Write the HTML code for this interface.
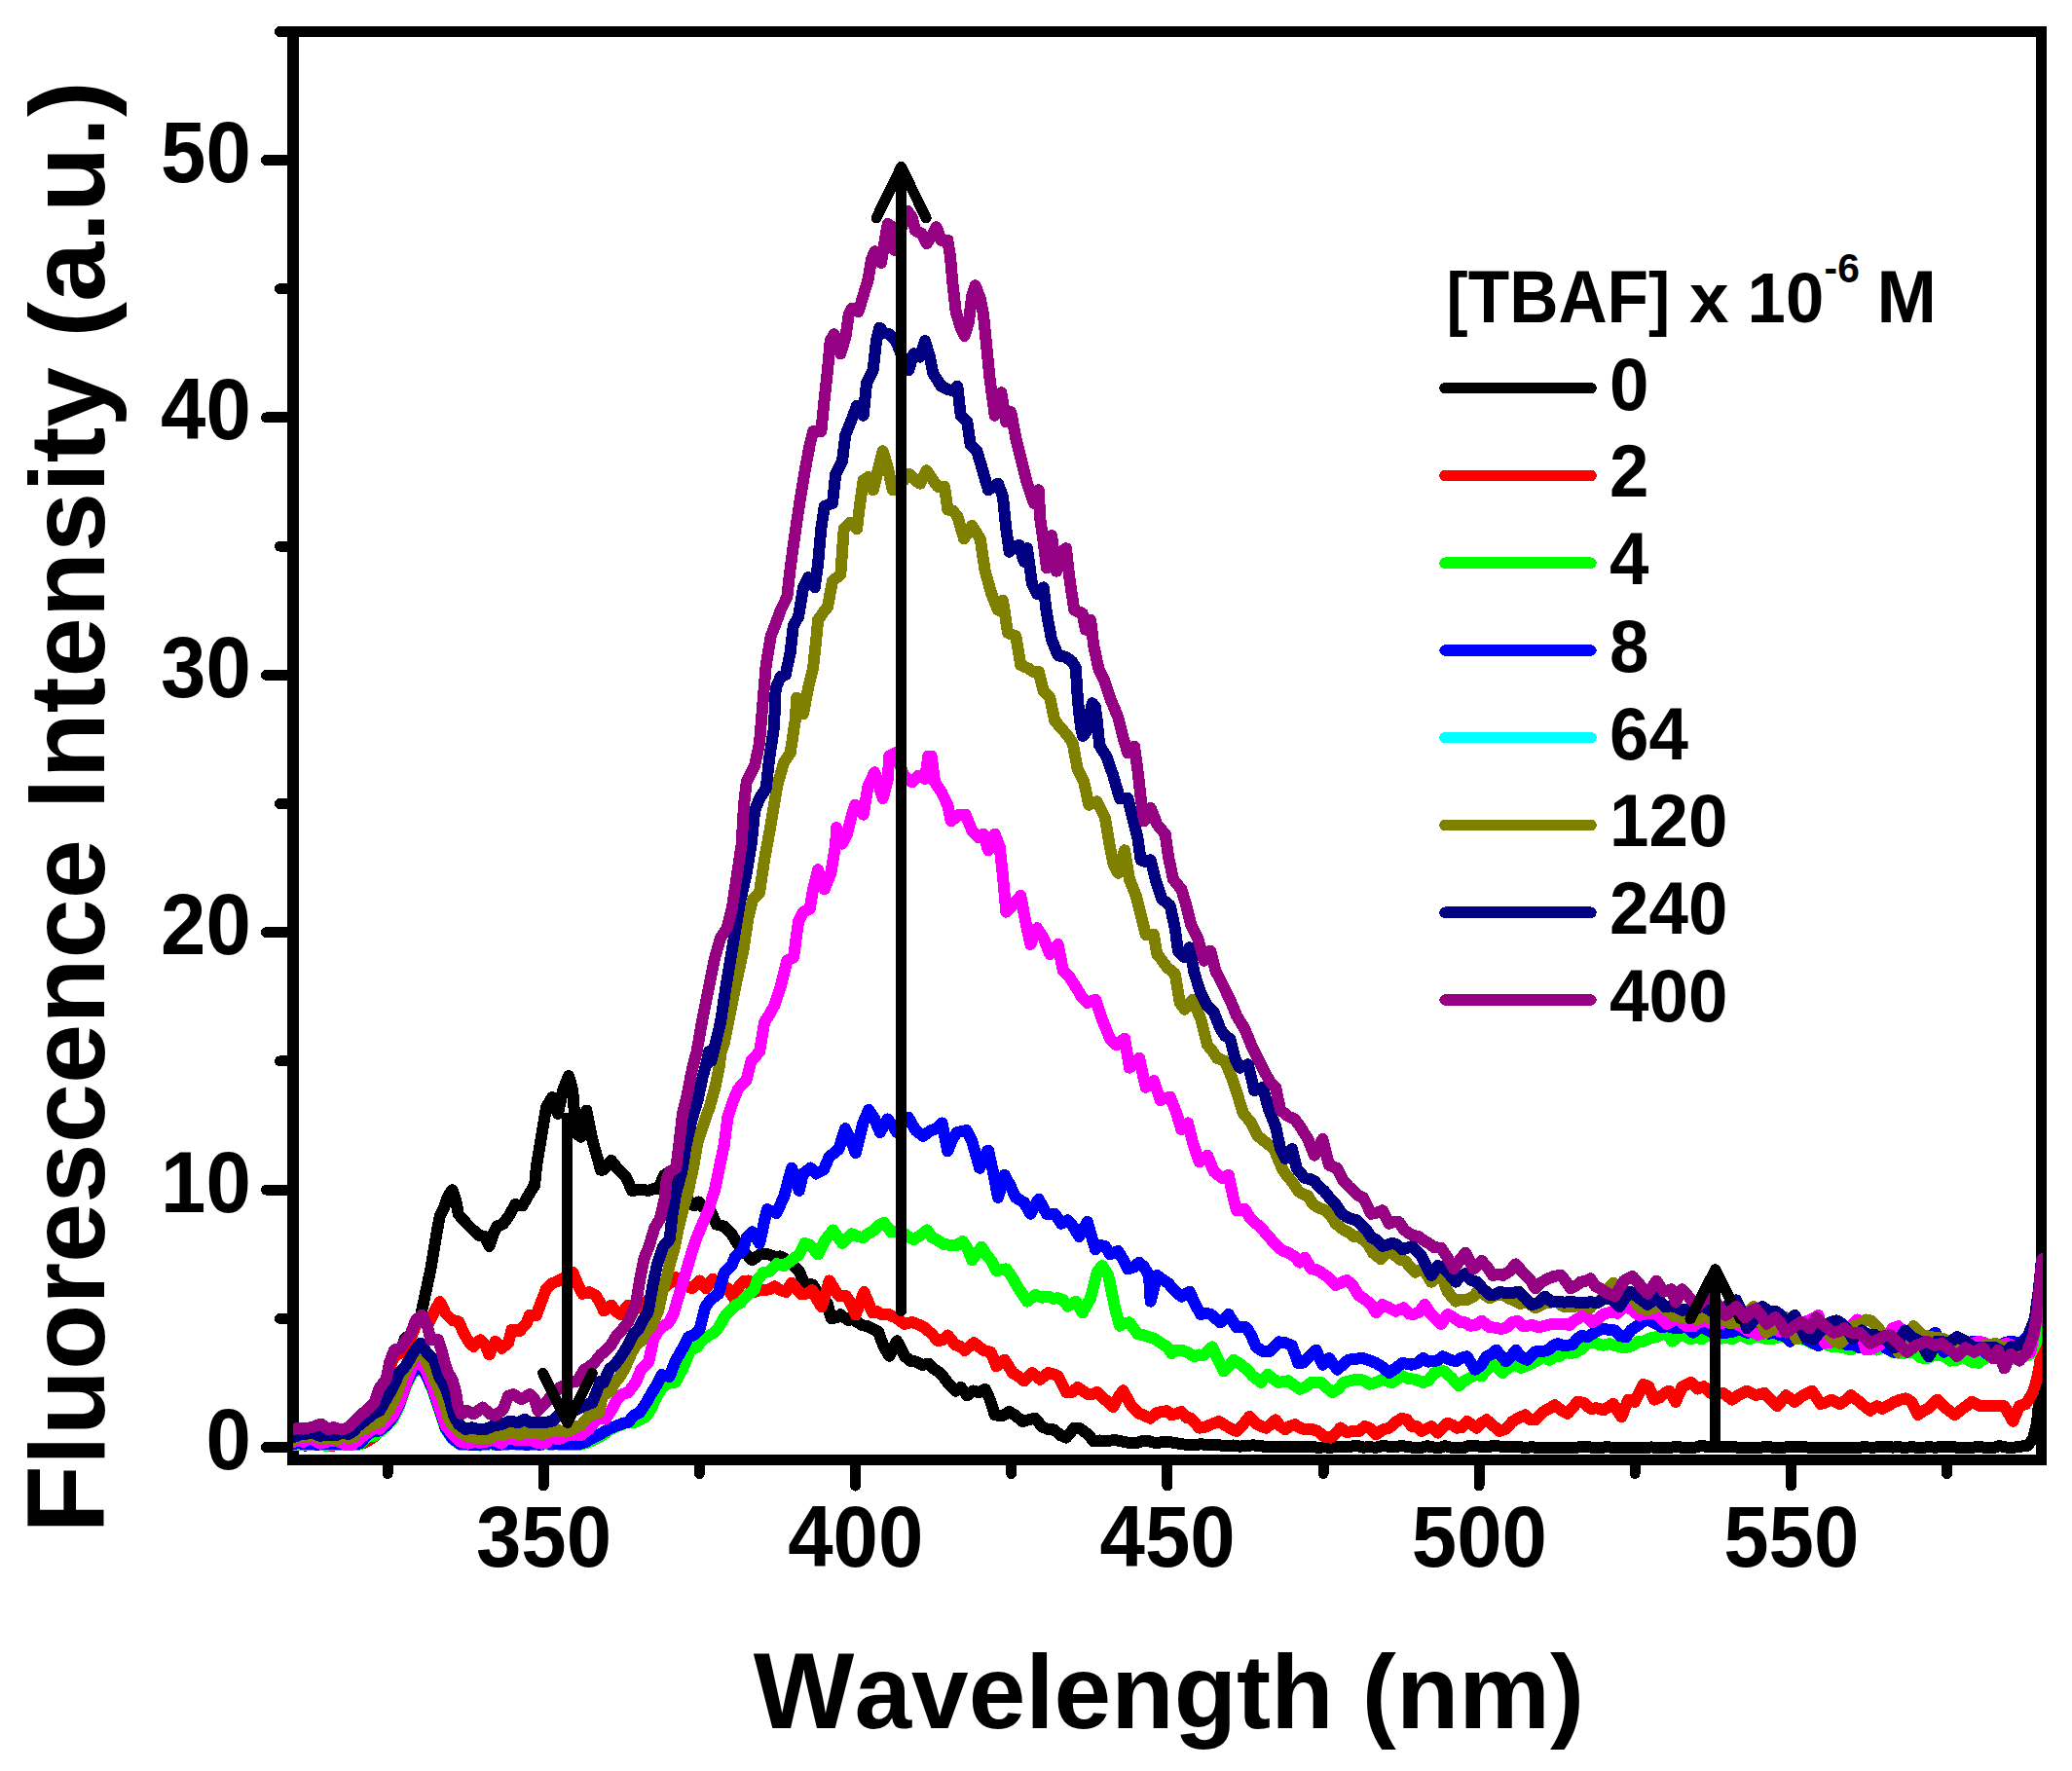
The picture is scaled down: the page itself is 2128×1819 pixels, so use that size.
<!DOCTYPE html>
<html lang="en"><head><meta charset="utf-8"><title>Fluorescence spectra</title>
<style>
html,body{margin:0;padding:0;background:#fff;}
body{width:2128px;height:1819px;overflow:hidden;}
svg{display:block;}
text{font-family:"Liberation Sans",Arial,Helvetica,sans-serif;font-weight:bold;fill:#000;}
.ax{stroke:#000;stroke-width:11;fill:none;stroke-linecap:round;}
.cv{fill:none;stroke-width:12;stroke-linejoin:round;stroke-linecap:round;}
.ar{fill:none;stroke:#000;stroke-width:11;stroke-linejoin:round;stroke-linecap:round;}
.lg{fill:none;stroke-width:11.5;stroke-linecap:round;}
</style></head><body>
<svg width="2128" height="1819" viewBox="0 0 2128 1819">
<rect x="0" y="0" width="2128" height="1819" fill="#ffffff"/>
<defs><clipPath id="plot"><rect x="301.0" y="32.5" width="1796.5" height="1467.0"/></clipPath></defs>
<g class="ax" shape-rendering="crispEdges">
<path d="M301.0 32.5 H2096.5 V1499.5 H301.0 Z" stroke-linejoin="miter" stroke-linecap="butt"/>
<line x1="301.0" y1="27.0" x2="301.0" y2="1505.0" style="stroke-width:12;stroke-linecap:butt"/>
<line x1="287.5" y1="32.5" x2="301.0" y2="32.5"/>
<line x1="273.5" y1="1486.5" x2="301.0" y2="1486.5"/>
<line x1="273.5" y1="1222.1" x2="301.0" y2="1222.1"/>
<line x1="273.5" y1="957.7" x2="301.0" y2="957.7"/>
<line x1="273.5" y1="693.3" x2="301.0" y2="693.3"/>
<line x1="273.5" y1="428.9" x2="301.0" y2="428.9"/>
<line x1="273.5" y1="164.5" x2="301.0" y2="164.5"/>
<line x1="287.5" y1="1354.3" x2="301.0" y2="1354.3"/>
<line x1="287.5" y1="1089.9" x2="301.0" y2="1089.9"/>
<line x1="287.5" y1="825.5" x2="301.0" y2="825.5"/>
<line x1="287.5" y1="561.1" x2="301.0" y2="561.1"/>
<line x1="287.5" y1="296.7" x2="301.0" y2="296.7"/>
<line x1="558.2" y1="1499.5" x2="558.2" y2="1526"/>
<line x1="878.5" y1="1499.5" x2="878.5" y2="1526"/>
<line x1="1198.8" y1="1499.5" x2="1198.8" y2="1526"/>
<line x1="1519.1" y1="1499.5" x2="1519.1" y2="1526"/>
<line x1="1839.4" y1="1499.5" x2="1839.4" y2="1526"/>
<line x1="398.1" y1="1499.5" x2="398.1" y2="1513.5"/>
<line x1="718.4" y1="1499.5" x2="718.4" y2="1513.5"/>
<line x1="1038.7" y1="1499.5" x2="1038.7" y2="1513.5"/>
<line x1="1359.0" y1="1499.5" x2="1359.0" y2="1513.5"/>
<line x1="1679.2" y1="1499.5" x2="1679.2" y2="1513.5"/>
<line x1="1999.5" y1="1499.5" x2="1999.5" y2="1513.5"/>
</g>
<text transform="translate(257.80 1509.00) scale(0.9370 1)" font-size="89.0" text-anchor="end">0</text>
<text transform="translate(257.80 1244.60) scale(0.9370 1)" font-size="89.0" text-anchor="end">10</text>
<text transform="translate(257.80 980.20) scale(0.9370 1)" font-size="89.0" text-anchor="end">20</text>
<text transform="translate(257.80 715.80) scale(0.9370 1)" font-size="89.0" text-anchor="end">30</text>
<text transform="translate(257.80 451.40) scale(0.9370 1)" font-size="89.0" text-anchor="end">40</text>
<text transform="translate(257.80 187.00) scale(0.9370 1)" font-size="89.0" text-anchor="end">50</text>
<text transform="translate(558.50 1608.70) scale(0.9370 1)" font-size="89.0" text-anchor="middle">350</text>
<text transform="translate(878.80 1608.70) scale(0.9370 1)" font-size="89.0" text-anchor="middle">400</text>
<text transform="translate(1199.10 1608.70) scale(0.9370 1)" font-size="89.0" text-anchor="middle">450</text>
<text transform="translate(1519.40 1608.70) scale(0.9370 1)" font-size="89.0" text-anchor="middle">500</text>
<text transform="translate(1839.70 1608.70) scale(0.9370 1)" font-size="89.0" text-anchor="middle">550</text>
<text transform="translate(1200.50 1775.40) scale(0.9853 1)" font-size="107.0" text-anchor="middle" id="xtitle"><tspan font-size="111.4">W</tspan>avelength (nm)</text>
<text id="ytitle" transform="translate(106.8 829.2) rotate(-90) scale(1.0108 1)" font-size="109" text-anchor="middle"><tspan font-size="113.4">F</tspan>luorescence <tspan font-size="113.4">I</tspan>ntensity (a.u.)</text>
<g clip-path="url(#plot)" shape-rendering="crispEdges">
<polyline class="cv" stroke="#000000" points="300.9,1483.5 307.4,1483.4 313.9,1484.7 320.4,1483.5 326.8,1482.9 333.1,1482.2 339.4,1483.9 345.8,1483.7 352.6,1484.1 359.4,1483.5 365.3,1483.4 371.2,1482.7 378.0,1479.1 384.8,1473.6 389.9,1427.9 396.6,1419.4 400.0,1402.4 405.1,1388.9 411.9,1386.0 416.1,1374.5 422.1,1370.3 427.1,1356.7 431.1,1356.4 434.2,1341.5 442.2,1304.2 448.4,1267.0 451.6,1249.6 456.5,1239.6 459.6,1229.7 464.6,1222.2 468.1,1232.2 470.8,1247.1 478.9,1256.4 485.7,1263.2 491.9,1268.8 498.1,1270.1 502.5,1280.0 506.8,1267.0 510.6,1259.5 516.8,1257.0 523.0,1248.3 529.2,1237.1 536.6,1238.4 542.9,1227.2 549.1,1217.3 550.9,1198.6 554.0,1180.0 561.1,1137.2 567.2,1127.0 573.0,1144.0 578.0,1120.3 584.1,1105.0 588.2,1120.3 591.6,1164.3 596.7,1167.7 602.4,1140.6 608.5,1171.1 617.0,1201.6 620.0,1201.6 627.7,1192.0 635.4,1201.6 643.2,1209.3 649.0,1222.9 653.8,1222.3 658.6,1221.9 666.3,1222.9 671.1,1221.0 676.0,1220.9 681.8,1207.4 687.6,1203.6 692.4,1208.2 697.2,1215.1 704.9,1230.6 712.7,1238.3 717.5,1234.4 722.3,1240.2 730.0,1244.1 735.8,1257.6 743.6,1259.5 751.3,1267.3 757.1,1276.9 762.9,1284.6 767.7,1289.2 772.5,1294.3 780.2,1288.5 785.0,1288.0 789.9,1288.5 795.7,1291.2 801.5,1290.4 805.3,1292.4 813.1,1298.1 820.8,1305.9 826.6,1319.4 834.3,1319.4 842.0,1331.0 849.7,1338.7 853.6,1354.1 858.4,1353.4 863.2,1350.3 871.0,1356.1 875.8,1355.1 880.6,1358.0 885.5,1361.3 890.3,1361.9 896.1,1364.9 901.9,1367.6 907.6,1383.1 913.4,1392.7 921.2,1377.3 928.9,1392.7 934.7,1397.7 940.5,1398.5 947.2,1402.1 954.0,1400.5 959.8,1406.4 965.6,1410.1 973.3,1420.0 981.3,1428.6 986.7,1425.0 993.3,1433.3 999.4,1428.5 1005.6,1430.2 1011.7,1426.7 1016.7,1437.5 1021.7,1453.3 1029.2,1454.2 1036.7,1450.0 1043.3,1454.1 1050.0,1460.0 1056.7,1458.2 1063.3,1456.7 1070.0,1465.1 1076.7,1468.3 1082.8,1468.5 1088.9,1474.1 1095.0,1476.7 1103.3,1466.7 1108.3,1466.7 1113.3,1470.0 1118.3,1474.4 1123.3,1480.3 1129.2,1479.5 1135.0,1480.5 1140.8,1479.5 1146.7,1479.4 1153.4,1480.7 1160.0,1481.9 1166.7,1482.2 1173.3,1480.0 1180.0,1480.3 1186.7,1482.1 1193.3,1481.3 1200.0,1480.7 1206.6,1482.1 1213.3,1483.1 1220.0,1484.1 1226.7,1484.4 1233.3,1483.2 1240.0,1484.0 1246.7,1484.0 1253.4,1484.5 1260.0,1485.3 1266.7,1484.5 1273.3,1485.6 1280.0,1484.9 1286.7,1484.4 1293.3,1484.8 1300.0,1486.1 1306.6,1486.3 1313.3,1485.8 1320.0,1485.8 1326.7,1486.3 1333.3,1486.0 1340.0,1486.4 1346.7,1485.8 1353.4,1486.8 1360.0,1486.4 1366.7,1486.7 1373.3,1485.9 1380.0,1486.2 1386.7,1485.9 1393.3,1484.6 1400.0,1486.6 1406.7,1486.3 1413.3,1486.7 1420.0,1484.9 1426.7,1485.9 1433.4,1485.9 1440.0,1485.0 1446.7,1486.2 1452.9,1486.9 1459.1,1487.1 1465.4,1485.2 1471.6,1486.4 1477.8,1487.2 1484.0,1485.1 1490.2,1486.7 1496.5,1487.0 1502.7,1487.2 1508.9,1484.8 1515.1,1485.0 1521.3,1485.9 1527.6,1486.5 1533.8,1484.7 1540.0,1485.5 1546.7,1486.5 1553.2,1486.0 1559.7,1485.8 1566.2,1487.2 1572.7,1486.2 1579.2,1487.0 1585.7,1487.0 1592.2,1487.2 1598.7,1486.9 1605.2,1486.8 1611.8,1487.2 1618.3,1486.9 1624.8,1485.7 1631.3,1486.2 1637.8,1487.2 1644.3,1486.7 1650.8,1486.3 1657.3,1486.8 1663.8,1487.2 1670.3,1486.5 1676.8,1486.5 1683.3,1486.9 1689.8,1486.9 1696.2,1486.4 1702.7,1487.2 1709.2,1487.2 1715.7,1486.9 1722.2,1485.6 1728.7,1487.2 1735.2,1487.1 1741.6,1486.5 1748.1,1484.6 1754.6,1486.5 1761.1,1485.7 1767.6,1486.4 1774.1,1486.2 1780.5,1486.0 1787.0,1487.2 1793.5,1486.7 1800.0,1486.5 1806.2,1487.2 1812.5,1485.9 1818.8,1486.4 1825.0,1487.2 1831.2,1486.8 1837.5,1486.1 1843.8,1485.9 1850.0,1486.2 1856.2,1486.5 1862.5,1487.1 1868.8,1486.7 1875.0,1487.1 1881.2,1487.2 1887.5,1486.7 1893.8,1487.2 1900.0,1486.5 1906.2,1487.1 1912.5,1486.4 1918.8,1486.5 1925.0,1486.6 1931.2,1486.1 1937.5,1485.6 1943.8,1486.6 1950.0,1486.2 1956.2,1487.0 1962.5,1486.2 1968.8,1486.7 1975.0,1486.7 1981.2,1486.2 1987.5,1486.7 1993.8,1486.1 2000.0,1486.5 2006.7,1486.3 2013.3,1487.2 2020.0,1486.9 2026.7,1486.6 2033.3,1486.0 2040.0,1487.1 2046.7,1487.2 2053.3,1485.0 2060.0,1486.5 2067.3,1486.8 2074.7,1485.7 2082.0,1485.0 2088.0,1478.0 2092.0,1462.0 2095.0,1430.0 2098.0,1380.0"/>
<polyline class="cv" stroke="#ff0000" points="300.9,1483.5 307.4,1483.6 313.9,1484.4 320.4,1483.5 326.8,1482.0 333.1,1482.7 339.4,1485.5 345.8,1483.8 352.6,1483.2 359.4,1483.5 365.3,1481.9 371.2,1482.8 378.0,1480.0 384.8,1475.3 389.9,1435.5 396.6,1422.8 400.0,1405.8 405.1,1392.3 411.9,1389.4 417.0,1380.9 422.1,1374.1 427.1,1360.6 433.1,1354.5 439.0,1361.8 443.2,1353.3 445.8,1347.4 451.7,1337.2 457.6,1349.1 464.4,1355.9 471.2,1357.5 476.3,1369.4 481.3,1377.9 486.4,1383.0 493.2,1376.2 498.3,1381.3 502.5,1391.4 508.5,1377.9 515.2,1384.7 522.0,1379.6 525.4,1366.0 533.9,1366.9 540.6,1359.2 544.0,1350.8 550.8,1350.8 555.9,1337.2 561.0,1323.7 566.0,1318.6 574.5,1315.2 583.0,1311.0 588.1,1306.7 593.2,1318.6 598.2,1328.7 605.0,1327.1 611.8,1330.4 616.9,1338.9 620.0,1346.4 627.7,1340.6 632.5,1346.7 637.4,1350.3 645.1,1340.6 652.8,1344.5 657.6,1341.9 662.5,1338.7 668.3,1332.8 674.1,1331.0 678.9,1327.6 683.7,1321.3 688.5,1317.2 693.4,1311.7 697.2,1317.5 704.9,1321.3 710.7,1323.2 718.5,1315.5 725.2,1323.2 732.0,1313.6 737.8,1319.4 742.6,1320.5 747.4,1323.2 753.2,1332.9 759.0,1321.3 763.8,1315.8 768.6,1315.5 774.4,1327.1 780.2,1325.2 786.0,1325.2 790.9,1323.9 795.7,1321.3 801.5,1325.1 807.3,1327.1 813.1,1317.5 817.9,1323.6 822.7,1329.0 828.5,1328.6 834.3,1325.2 839.1,1334.7 843.9,1342.5 851.7,1315.5 861.3,1331.0 869.0,1331.0 873.9,1339.1 878.7,1350.3 887.4,1327.1 896.1,1348.3 900.9,1347.2 905.7,1350.3 913.4,1350.3 921.2,1354.1 928.9,1359.9 936.6,1358.0 943.4,1360.5 950.1,1363.8 956.9,1370.3 963.6,1377.3 968.5,1375.9 973.3,1371.5 981.0,1381.2 985.9,1382.6 990.7,1386.9 1000.3,1379.2 1005.1,1383.0 1010.0,1386.9 1017.7,1388.9 1023.3,1403.3 1031.7,1396.7 1040.0,1410.0 1045.8,1413.6 1051.7,1418.3 1060.0,1410.0 1068.3,1416.7 1076.7,1410.0 1081.7,1411.5 1086.7,1413.3 1095.0,1430.0 1100.8,1430.1 1106.7,1425.0 1111.7,1428.4 1116.7,1431.7 1121.7,1432.0 1126.7,1430.0 1133.3,1436.7 1138.3,1439.8 1143.3,1445.0 1148.3,1435.5 1153.3,1428.3 1161.7,1443.3 1170.0,1451.7 1175.8,1454.1 1181.7,1456.7 1187.5,1451.3 1193.3,1450.0 1198.3,1449.1 1203.3,1453.3 1208.3,1452.0 1213.3,1450.0 1218.3,1455.9 1223.3,1456.7 1231.7,1466.7 1237.5,1465.7 1243.3,1463.3 1251.7,1460.0 1260.0,1465.0 1265.0,1467.8 1270.0,1470.0 1276.7,1463.1 1283.3,1455.0 1291.7,1463.3 1300.0,1466.7 1305.0,1463.0 1310.0,1458.3 1315.0,1464.9 1320.0,1468.3 1325.0,1464.6 1330.0,1463.3 1335.0,1466.4 1340.0,1468.3 1346.7,1467.7 1353.3,1470.0 1360.0,1475.6 1366.7,1476.7 1371.7,1472.2 1376.7,1466.7 1383.3,1470.9 1390.0,1470.0 1395.8,1470.1 1401.7,1465.0 1407.5,1467.4 1413.3,1473.3 1420.0,1468.5 1426.7,1466.7 1433.3,1460.7 1440.0,1456.7 1445.0,1458.3 1450.0,1465.0 1455.0,1465.2 1460.0,1470.0 1465.0,1467.5 1470.0,1465.0 1476.7,1471.7 1481.7,1466.7 1486.7,1461.7 1491.7,1463.7 1496.7,1466.7 1501.7,1465.9 1506.7,1460.0 1511.7,1463.3 1516.7,1466.7 1521.7,1461.6 1526.7,1458.3 1533.3,1464.0 1540.0,1470.0 1546.7,1467.6 1553.3,1460.0 1560.0,1456.3 1566.7,1453.3 1571.7,1458.4 1576.7,1458.3 1585.0,1450.0 1590.8,1446.8 1596.7,1443.3 1603.3,1448.2 1610.0,1451.7 1615.0,1446.0 1620.0,1440.0 1626.7,1440.8 1633.3,1446.7 1640.0,1446.4 1646.7,1448.3 1651.7,1445.4 1656.7,1442.0 1665.5,1455.3 1672.2,1437.6 1678.9,1439.8 1687.7,1422.0 1693.3,1424.2 1698.8,1437.6 1704.3,1435.5 1709.9,1430.9 1714.4,1428.7 1721.0,1439.8 1727.7,1424.2 1736.6,1419.8 1743.3,1426.5 1749.9,1424.2 1756.6,1430.9 1763.2,1431.8 1769.9,1430.9 1778.8,1437.6 1785.4,1433.1 1794.3,1428.7 1803.2,1433.1 1812.1,1430.9 1818.8,1438.0 1825.4,1444.2 1834.3,1433.1 1843.2,1439.8 1852.0,1433.1 1860.9,1428.7 1869.8,1442.0 1875.3,1440.4 1880.9,1437.6 1889.8,1442.0 1895.3,1438.2 1900.9,1433.1 1909.8,1439.8 1915.3,1444.7 1920.9,1448.7 1927.5,1444.2 1933.0,1446.8 1938.6,1444.2 1945.3,1440.1 1952.0,1437.6 1957.5,1436.4 1963.1,1439.8 1969.7,1453.1 1975.2,1449.1 1980.8,1446.4 1989.7,1437.6 1998.6,1446.4 2007.5,1453.1 2016.3,1446.4 2025.2,1439.8 2034.1,1444.2 2040.8,1444.2 2049.6,1444.2 2058.5,1444.2 2067.4,1459.8 2074.1,1444.2 2080.7,1442.0 2087.4,1430.9 2091.8,1417.6 2095.2,1399.8 2097.4,1377.6"/>
<polyline class="cv" stroke="#00ff00" points="300.9,1484.1 306.4,1483.9 311.9,1484.1 318.7,1483.7 323.8,1484.2 328.9,1484.3 335.6,1484.7 342.4,1484.0 349.2,1484.1 356.0,1484.4 362.8,1484.5 369.5,1483.5 378.0,1475.3 383.9,1474.8 389.9,1471.0 396.6,1464.1 403.4,1457.5 410.2,1443.9 417.0,1423.6 423.7,1410.1 431.9,1405.8 437.3,1411.8 444.1,1427.0 450.9,1447.3 457.6,1467.7 464.4,1477.8 472.9,1484.0 481.3,1484.2 487.0,1483.4 492.6,1484.6 498.3,1484.1 503.9,1483.3 509.6,1484.2 515.2,1484.1 520.9,1483.9 526.5,1482.6 532.2,1484.0 537.8,1483.6 543.5,1484.0 549.1,1484.1 554.7,1484.5 560.4,1482.7 566.0,1483.9 571.7,1483.1 577.3,1484.2 583.0,1483.8 589.8,1483.9 596.5,1483.6 602.5,1482.0 608.4,1479.5 616.9,1475.3 625.3,1469.4 633.8,1465.1 639.4,1462.6 645.0,1460.0 650.9,1461.2 656.9,1458.4 662.8,1455.7 668.4,1447.7 674.1,1435.5 679.7,1425.2 686.5,1420.8 693.4,1420.0 701.1,1406.3 708.8,1386.9 716.5,1383.1 720.4,1377.3 728.1,1371.5 733.0,1369.0 737.8,1363.8 745.5,1350.3 750.3,1345.5 755.1,1340.6 760.9,1337.8 766.7,1331.0 774.4,1325.2 778.3,1313.6 784.1,1307.2 789.9,1305.9 797.6,1298.1 805.3,1300.1 813.1,1294.3 820.8,1288.5 826.6,1276.9 832.4,1278.8 840.1,1288.5 847.8,1273.1 855.5,1263.4 860.4,1270.4 865.2,1276.9 874.8,1267.3 880.6,1269.8 886.4,1271.1 892.2,1266.7 898.0,1263.4 902.8,1258.3 907.6,1255.7 915.4,1265.3 922.1,1265.0 928.9,1267.3 933.7,1270.6 938.5,1273.1 945.2,1269.0 952.0,1263.4 956.9,1270.7 961.7,1273.1 968.5,1277.6 975.2,1278.8 982.0,1279.3 988.7,1275.0 993.5,1282.1 998.4,1294.3 1003.2,1287.4 1008.0,1280.8 1012.9,1288.6 1017.7,1294.3 1023.3,1305.0 1028.3,1304.1 1033.3,1303.3 1039.2,1311.5 1045.0,1321.7 1050.0,1328.9 1055.0,1336.7 1063.3,1330.0 1070.0,1332.7 1076.7,1331.7 1081.7,1333.7 1086.7,1333.3 1091.7,1334.9 1096.7,1341.7 1105.0,1336.7 1111.7,1348.3 1120.0,1333.3 1126.7,1306.7 1131.7,1300.0 1138.3,1310.0 1145.0,1343.3 1150.0,1361.7 1155.0,1358.9 1160.0,1358.3 1168.3,1370.0 1174.2,1371.1 1180.0,1373.3 1186.7,1375.5 1193.3,1380.0 1198.3,1383.1 1203.3,1390.0 1208.3,1386.7 1213.3,1386.7 1220.0,1389.3 1226.7,1393.3 1231.7,1391.5 1236.7,1391.7 1245.0,1383.3 1251.7,1398.3 1256.7,1408.3 1261.7,1403.4 1266.7,1396.7 1271.7,1399.7 1276.7,1403.3 1281.7,1407.9 1286.7,1413.3 1295.0,1420.0 1301.7,1411.7 1307.5,1416.2 1313.3,1420.0 1318.3,1418.8 1323.3,1418.3 1329.2,1423.1 1335.0,1426.7 1340.8,1424.5 1346.7,1420.0 1351.7,1419.9 1356.7,1420.0 1362.5,1425.3 1368.3,1430.0 1374.2,1426.8 1380.0,1420.0 1386.7,1418.2 1393.3,1416.7 1400.0,1417.5 1406.7,1421.7 1413.3,1419.9 1420.0,1416.7 1425.0,1418.6 1430.0,1420.0 1435.0,1416.6 1440.0,1413.3 1446.7,1416.2 1453.3,1416.7 1461.7,1420.0 1467.5,1417.4 1473.3,1410.0 1478.3,1408.4 1483.3,1408.3 1490.8,1415.2 1498.3,1423.3 1504.2,1418.0 1510.0,1415.0 1515.8,1411.8 1521.7,1413.3 1527.5,1406.0 1533.3,1401.7 1538.3,1405.4 1543.3,1410.0 1550.0,1403.7 1556.7,1401.7 1561.7,1404.9 1566.7,1403.3 1573.3,1400.5 1580.0,1396.7 1585.6,1393.0 1591.1,1397.0 1596.7,1393.3 1602.2,1392.8 1607.8,1389.0 1613.3,1390.0 1619.2,1388.7 1625.0,1385.0 1630.8,1379.1 1636.7,1378.3 1641.7,1380.7 1646.7,1381.7 1652.8,1380.2 1658.9,1382.1 1667.8,1384.3 1676.6,1382.1 1682.2,1378.2 1687.7,1377.6 1694.4,1374.5 1701.1,1373.2 1709.9,1368.7 1717.7,1377.6 1725.5,1371.0 1731.0,1372.6 1736.6,1375.4 1742.2,1373.6 1747.7,1375.4 1754.3,1371.2 1761.0,1372.1 1766.5,1375.2 1772.1,1373.2 1778.8,1375.4 1787.7,1371.0 1796.5,1375.4 1805.4,1372.1 1812.1,1374.7 1818.7,1375.4 1825.4,1373.6 1832.1,1372.1 1838.0,1373.9 1843.9,1372.5 1849.8,1375.4 1855.3,1376.0 1860.9,1379.8 1866.5,1378.5 1872.0,1377.6 1878.7,1382.4 1885.3,1383.2 1893.1,1383.8 1900.9,1386.5 1908.7,1382.6 1916.4,1382.1 1922.0,1381.8 1927.5,1386.5 1933.0,1383.6 1938.6,1384.3 1944.2,1388.8 1949.7,1389.8 1955.2,1390.1 1960.8,1388.7 1966.7,1388.7 1972.7,1394.3 1978.6,1395.4 1984.2,1392.4 1989.7,1392.1 1996.3,1392.6 2003.0,1397.6 2009.7,1396.8 2016.3,1393.2 2024.1,1398.6 2031.9,1399.8 2037.8,1395.6 2043.7,1393.6 2049.6,1393.2 2058.5,1397.6 2067.4,1395.4 2076.3,1394.3 2085.2,1390.9 2091.8,1377.6 2095.2,1344.3 2097.4,1315.5"/>
<polyline class="cv" stroke="#0000ff" points="300.9,1483.3 306.4,1481.8 311.9,1483.3 318.7,1482.9 323.8,1483.6 328.9,1483.5 335.6,1483.1 342.4,1483.2 349.2,1482.4 356.0,1483.7 362.8,1482.5 369.5,1482.7 378.0,1472.7 383.9,1470.2 389.9,1469.4 396.6,1464.4 403.4,1455.8 410.2,1442.2 417.0,1421.9 423.7,1408.4 431.9,1404.1 437.3,1410.9 444.1,1426.2 450.9,1446.5 457.6,1466.8 464.4,1477.0 472.9,1483.3 481.3,1483.5 487.0,1483.5 492.6,1483.6 498.3,1483.4 503.9,1482.1 509.6,1483.7 515.2,1483.5 520.9,1483.3 526.5,1483.1 532.2,1483.3 537.8,1483.5 543.5,1483.5 549.1,1483.4 554.7,1483.6 560.4,1482.0 566.0,1483.1 571.7,1482.9 577.3,1483.3 583.0,1483.0 589.8,1483.0 596.5,1482.8 601.6,1480.9 606.7,1477.8 611.8,1475.3 616.9,1472.7 625.3,1467.7 633.8,1464.3 639.4,1462.2 645.0,1460.9 650.9,1454.0 656.9,1451.0 662.8,1442.2 669.4,1430.6 676.0,1420.0 679.8,1412.0 687.6,1414.0 693.4,1398.5 701.1,1385.0 706.9,1373.4 712.7,1371.2 718.5,1365.7 724.2,1342.5 730.0,1334.8 737.8,1329.0 743.6,1307.8 751.3,1300.1 755.1,1290.4 762.9,1284.6 766.7,1271.1 772.5,1265.3 780.2,1276.9 786.0,1249.9 788.0,1242.2 792.8,1244.2 797.6,1246.0 805.3,1228.6 813.1,1199.7 820.8,1222.9 824.6,1205.5 832.4,1199.7 838.1,1205.5 845.9,1201.6 851.7,1188.1 861.3,1180.4 868.1,1159.2 873.4,1170.1 878.7,1184.2 886.4,1153.4 892.2,1139.8 898.0,1148.8 903.8,1163.0 911.5,1149.5 916.4,1155.4 921.2,1163.0 927.0,1153.8 932.7,1147.6 940.5,1161.1 948.2,1166.9 955.9,1161.1 961.7,1159.5 967.5,1153.4 973.3,1182.3 978.1,1170.1 982.9,1163.0 987.8,1162.1 992.6,1161.1 998.4,1172.7 1006.1,1199.7 1013.8,1182.3 1015.0,1181.7 1020.0,1203.8 1025.0,1230.0 1031.7,1206.7 1037.5,1217.7 1043.3,1230.0 1051.7,1235.0 1058.3,1246.7 1066.7,1231.7 1075.0,1246.7 1083.3,1246.7 1090.0,1256.7 1096.7,1253.3 1102.5,1260.2 1108.3,1270.0 1116.7,1255.0 1125.0,1283.3 1130.0,1279.1 1135.0,1280.0 1140.0,1288.3 1148.3,1285.0 1153.3,1293.1 1158.3,1303.3 1164.2,1301.6 1170.0,1296.7 1175.0,1301.3 1180.0,1310.0 1181.7,1336.7 1188.3,1310.0 1194.2,1314.3 1200.0,1318.3 1206.7,1325.9 1213.3,1331.7 1221.7,1326.7 1227.5,1339.7 1233.3,1350.0 1238.3,1348.8 1243.3,1350.0 1248.3,1354.0 1253.3,1358.3 1261.7,1350.0 1270.0,1363.3 1275.0,1363.2 1280.0,1363.3 1285.0,1371.4 1290.0,1383.3 1296.7,1387.9 1303.3,1388.3 1308.3,1383.4 1313.3,1378.3 1320.0,1379.3 1326.7,1381.7 1333.3,1400.0 1338.3,1399.6 1343.3,1395.0 1351.7,1386.7 1358.3,1401.7 1365.0,1395.0 1373.3,1406.7 1379.2,1401.7 1385.0,1396.7 1392.5,1395.7 1400.0,1395.0 1406.7,1397.3 1413.3,1400.0 1420.0,1404.2 1426.7,1410.0 1433.3,1405.5 1440.0,1400.0 1445.0,1400.7 1450.0,1401.7 1455.8,1399.9 1461.7,1395.0 1466.7,1398.6 1471.7,1398.3 1476.7,1397.2 1481.7,1393.3 1488.3,1396.2 1495.0,1398.3 1500.8,1394.8 1506.7,1393.3 1515.0,1406.7 1520.8,1402.6 1526.7,1393.3 1531.7,1391.1 1536.7,1386.7 1541.7,1393.0 1546.7,1398.3 1551.7,1393.8 1556.7,1386.7 1562.5,1394.3 1568.3,1396.7 1576.7,1388.3 1583.3,1388.2 1590.0,1386.7 1595.0,1382.2 1600.0,1380.0 1605.0,1381.8 1610.0,1381.7 1615.0,1380.9 1620.0,1375.0 1625.0,1371.7 1630.0,1373.3 1638.3,1368.3 1643.3,1365.3 1648.3,1365.0 1653.6,1366.3 1658.9,1366.5 1664.5,1372.4 1670.0,1373.2 1675.5,1365.8 1681.1,1362.1 1690.0,1355.4 1695.5,1356.8 1701.1,1359.9 1706.7,1363.1 1712.2,1362.1 1721.0,1364.3 1726.5,1363.8 1732.1,1362.1 1738.8,1368.7 1744.3,1364.3 1749.9,1364.3 1755.5,1367.2 1761.0,1369.8 1766.5,1369.2 1772.1,1368.7 1777.7,1368.2 1783.2,1366.5 1788.8,1366.2 1794.3,1368.7 1799.8,1368.3 1805.4,1364.3 1811.0,1366.8 1816.5,1369.8 1822.0,1368.4 1827.6,1371.0 1833.2,1372.3 1838.7,1377.6 1844.2,1373.4 1849.8,1373.2 1858.7,1377.6 1867.6,1382.1 1875.3,1376.2 1883.1,1375.4 1889.8,1375.6 1896.4,1381.0 1903.1,1380.9 1909.8,1384.3 1915.7,1381.3 1921.6,1377.4 1927.5,1377.6 1936.4,1384.3 1945.3,1388.7 1950.8,1383.8 1956.4,1382.1 1965.3,1377.6 1970.8,1377.6 1976.4,1375.4 1982.0,1374.7 1987.5,1368.7 1996.4,1388.7 2003.1,1381.6 2009.7,1373.2 2018.6,1379.8 2027.4,1377.6 2034.1,1384.8 2040.8,1390.9 2046.3,1385.2 2051.9,1384.3 2058.6,1379.4 2065.2,1377.6 2074.1,1379.8 2082.9,1373.2 2090.7,1355.4 2095.2,1315.5 2097.4,1295.5"/>
<polyline class="cv" stroke="#ff00ff" points="300.9,1480.9 306.4,1479.9 311.9,1480.9 318.7,1477.5 323.8,1479.9 328.9,1482.6 335.6,1480.8 342.4,1480.0 349.2,1480.8 356.0,1484.3 362.8,1483.5 369.5,1477.5 378.0,1471.0 383.9,1466.8 389.9,1467.7 396.6,1459.9 403.4,1454.1 410.2,1440.6 417.0,1420.2 423.7,1403.3 430.5,1398.2 437.3,1406.7 444.1,1423.6 450.9,1443.9 457.6,1464.3 464.4,1472.4 472.9,1480.9 481.3,1482.6 487.0,1481.0 492.6,1481.8 498.3,1480.9 505.1,1479.2 510.2,1480.4 515.2,1482.6 520.3,1477.5 525.4,1477.5 530.5,1479.2 535.6,1479.2 540.7,1479.1 545.7,1479.2 550.8,1481.6 555.9,1482.6 561.0,1481.8 566.0,1475.8 571.1,1477.8 576.2,1477.5 581.3,1474.6 586.4,1474.1 591.5,1473.3 596.5,1474.1 605.0,1467.7 611.8,1459.2 616.9,1455.8 622.0,1457.5 628.7,1447.3 633.8,1437.2 638.9,1432.1 645.0,1430.4 652.8,1420.0 658.6,1406.3 666.3,1398.5 671.2,1375.4 676.5,1366.1 681.8,1361.9 686.6,1358.6 691.4,1350.3 695.3,1336.8 703.0,1311.7 709.8,1288.5 715.6,1271.1 720.4,1259.5 727.1,1244.1 733.9,1222.9 738.7,1199.7 743.6,1176.5 747.4,1147.6 753.2,1130.2 758.0,1118.6 766.7,1109.0 771.5,1089.7 780.2,1080.0 785.0,1050.0 790.0,1042.1 795.0,1033.3 801.7,1013.3 808.3,986.7 815.0,983.3 820.0,946.7 825.0,936.7 831.7,933.3 835.0,913.3 840.0,893.3 846.7,913.3 853.3,896.7 858.3,866.7 859.0,850.0 865.0,866.7 870.0,856.7 875.0,836.7 878.3,826.7 886.7,836.7 891.7,806.7 898.3,793.3 901.7,803.3 906.7,820.0 911.7,800.0 913.3,776.7 920.0,773.3 928.3,796.7 936.7,803.3 943.3,796.7 950.0,800.0 953.3,776.7 956.7,776.7 960.0,803.3 966.7,813.3 973.3,826.7 976.7,843.3 985.0,836.7 991.7,836.7 998.3,853.3 1005.0,860.0 1010.0,856.7 1015.0,873.3 1021.7,856.7 1026.7,870.0 1030.0,900.0 1033.3,936.7 1040.0,930.0 1048.3,920.0 1053.3,946.7 1058.3,970.0 1065.0,953.3 1071.7,963.3 1078.3,980.0 1086.7,970.0 1091.7,996.7 1098.3,1003.3 1106.7,1016.7 1111.7,1025.2 1116.7,1030.0 1125.0,1026.7 1131.7,1046.7 1140.0,1066.7 1146.7,1073.3 1155.0,1066.7 1160.0,1096.7 1165.0,1092.0 1170.0,1086.7 1176.7,1116.7 1185.0,1110.0 1191.7,1130.0 1196.7,1127.9 1201.7,1126.7 1208.3,1143.3 1213.3,1160.0 1220.0,1153.3 1225.0,1173.3 1231.7,1193.3 1240.0,1186.7 1246.7,1203.3 1255.0,1210.0 1261.7,1206.7 1266.7,1230.3 1270.0,1243.3 1278.3,1241.7 1284.2,1251.6 1290.0,1256.7 1295.0,1260.8 1300.0,1266.7 1305.0,1272.4 1310.0,1278.3 1316.7,1284.2 1323.3,1286.7 1329.2,1290.4 1335.0,1296.7 1340.0,1291.7 1346.7,1303.3 1351.7,1304.1 1356.7,1306.7 1364.2,1312.2 1371.7,1320.0 1377.5,1317.4 1383.3,1315.0 1389.2,1319.9 1395.0,1330.0 1401.7,1334.5 1408.3,1340.0 1413.3,1348.3 1420.0,1340.0 1426.7,1343.3 1433.3,1346.7 1441.7,1343.3 1446.7,1349.2 1451.7,1350.0 1457.5,1347.6 1463.3,1340.0 1468.3,1347.9 1473.3,1353.3 1480.0,1360.0 1486.7,1350.0 1493.3,1353.7 1500.0,1358.3 1505.0,1358.3 1510.0,1361.7 1515.8,1360.9 1521.7,1356.7 1530.0,1363.3 1535.8,1363.6 1541.7,1365.0 1547.2,1363.4 1552.8,1358.2 1558.3,1356.7 1563.3,1361.8 1568.3,1361.7 1574.2,1361.1 1580.0,1363.3 1586.7,1361.7 1593.3,1360.0 1600.0,1359.6 1606.7,1360.0 1611.7,1360.9 1616.7,1356.7 1625.0,1351.7 1630.0,1352.9 1635.0,1358.3 1640.8,1354.9 1646.7,1350.0 1653.9,1347.8 1661.1,1348.8 1666.7,1343.3 1672.2,1342.1 1677.8,1347.1 1683.3,1351.0 1688.8,1349.9 1694.4,1348.8 1700.0,1348.4 1705.5,1353.2 1712.2,1359.9 1717.8,1357.0 1723.3,1355.4 1732.1,1362.1 1738.8,1362.4 1745.5,1357.6 1753.2,1357.3 1761.0,1361.0 1768.4,1358.8 1775.8,1357.9 1783.2,1359.9 1788.8,1362.3 1794.3,1366.5 1799.8,1368.1 1805.4,1371.0 1812.1,1369.3 1818.7,1364.3 1827.6,1367.6 1833.2,1364.7 1838.7,1364.3 1846.5,1359.5 1854.3,1357.6 1860.9,1354.8 1867.6,1351.0 1874.2,1379.8 1882.0,1378.3 1889.8,1373.2 1898.7,1364.3 1907.5,1355.4 1916.4,1386.5 1923.1,1385.4 1929.8,1382.1 1938.6,1371.0 1944.2,1364.0 1949.7,1362.1 1955.2,1374.1 1960.8,1382.1 1966.7,1380.2 1972.7,1376.9 1978.6,1375.4 1984.5,1376.5 1990.5,1376.7 1996.4,1379.8 2002.3,1385.4 2008.2,1384.7 2014.1,1388.7 2020.0,1383.2 2026.0,1380.3 2031.9,1377.6 2038.6,1379.4 2045.2,1382.1 2052.9,1382.7 2060.7,1379.8 2066.2,1381.5 2071.8,1384.3 2078.5,1386.2 2085.2,1388.7 2091.8,1355.4 2095.8,1311.0 2097.4,1293.3"/>
<polyline class="cv" stroke="#808000" points="300.9,1478.8 308.6,1475.5 314.5,1475.4 320.4,1473.8 328.9,1477.1 334.5,1477.8 340.2,1476.5 345.8,1478.8 351.8,1475.6 357.7,1477.1 362.8,1476.3 367.8,1470.4 376.3,1467.0 383.1,1462.4 389.9,1460.9 394.9,1455.2 400.0,1447.3 406.8,1433.8 413.6,1413.5 420.4,1401.6 425.4,1391.4 430.5,1384.7 435.6,1394.8 442.4,1408.4 449.2,1423.6 455.9,1440.6 461.0,1457.5 466.1,1465.3 472.9,1472.1 481.3,1475.5 489.8,1477.1 498.3,1477.1 503.4,1477.2 508.5,1473.8 513.5,1474.5 518.6,1472.9 523.7,1471.8 528.8,1472.1 533.8,1473.6 538.9,1471.2 544.0,1472.3 549.1,1472.1 557.6,1472.9 566.0,1470.4 571.1,1467.8 576.2,1470.4 581.3,1470.6 586.4,1468.7 591.5,1465.2 596.5,1464.3 605.0,1454.1 610.1,1452.4 615.2,1450.7 618.6,1433.8 627.0,1428.7 631.6,1420.0 636.4,1414.2 641.2,1406.3 649.0,1388.9 653.8,1380.5 658.6,1377.3 663.5,1368.0 668.3,1363.8 676.0,1346.4 679.8,1329.0 683.7,1315.5 688.5,1296.2 692.4,1282.7 697.2,1259.5 702.0,1240.2 706.9,1222.9 712.7,1195.8 716.5,1172.7 722.3,1155.3 729.1,1136.0 734.9,1114.7 738.7,1095.4 740.7,1080.0 743.3,1073.3 750.0,1040.0 756.7,1006.7 763.3,976.7 768.3,943.3 773.3,923.3 780.0,916.7 785.0,883.3 791.7,846.7 798.3,806.7 805.0,783.3 811.7,773.3 816.7,740.0 818.3,716.7 825.0,733.3 830.0,706.7 835.0,686.7 839.3,646.7 840.0,636.7 845.0,629.8 850.0,623.3 855.0,596.7 863.3,590.0 866.7,543.3 873.3,536.7 880.0,543.3 883.3,516.7 886.7,493.3 891.7,490.0 896.7,503.3 901.7,483.3 906.7,463.3 911.7,480.0 916.7,503.3 921.7,496.7 928.3,493.3 933.3,486.7 940.0,493.3 945.0,496.7 951.7,483.3 958.3,493.3 963.3,500.0 970.0,500.0 973.3,523.3 978.3,524.5 983.3,530.0 990.0,553.3 998.3,540.0 1006.7,553.3 1011.7,586.7 1018.3,610.0 1025.0,626.7 1030.0,616.7 1035.0,650.0 1043.3,653.3 1048.3,683.3 1056.7,686.7 1061.7,690.4 1066.7,690.0 1071.7,710.0 1078.3,716.7 1083.3,740.3 1091.7,750.0 1096.7,755.8 1101.7,763.3 1106.7,790.0 1113.3,803.3 1118.3,826.7 1126.7,823.3 1135.0,840.0 1140.0,870.0 1143.3,886.7 1148.3,896.7 1155.0,873.3 1160.0,903.3 1166.7,920.0 1171.7,940.0 1176.7,960.0 1185.0,960.0 1188.3,980.0 1193.3,986.1 1198.3,993.3 1206.7,1000.0 1211.7,1030.0 1216.7,1036.7 1225.0,1026.7 1233.3,1046.7 1240.0,1073.3 1245.0,1079.2 1250.0,1086.7 1258.3,1090.0 1265.0,1106.7 1271.7,1126.7 1276.7,1143.3 1285.0,1153.3 1291.7,1166.7 1300.0,1173.3 1308.3,1180.0 1316.7,1200.0 1321.7,1208.0 1326.7,1213.3 1333.3,1223.3 1338.3,1226.5 1343.3,1228.3 1348.3,1236.8 1353.3,1240.0 1361.7,1243.3 1366.7,1248.6 1371.7,1256.7 1380.0,1263.3 1385.0,1265.6 1390.0,1270.0 1395.0,1270.2 1400.0,1273.3 1405.0,1278.1 1410.0,1286.7 1418.3,1293.3 1426.7,1283.3 1433.3,1290.0 1438.3,1293.9 1443.3,1295.0 1448.3,1301.7 1453.3,1306.7 1461.7,1303.3 1470.0,1316.7 1475.0,1311.9 1480.0,1308.3 1486.7,1326.7 1495.0,1336.7 1500.8,1334.7 1506.7,1335.0 1513.3,1331.8 1520.0,1323.3 1525.0,1330.4 1530.0,1333.3 1536.7,1329.9 1543.3,1330.0 1550.0,1333.6 1556.7,1336.7 1561.7,1339.0 1566.7,1336.7 1571.7,1339.9 1576.7,1343.3 1581.7,1341.0 1586.7,1338.3 1593.3,1337.6 1600.0,1336.7 1605.0,1341.6 1610.0,1341.7 1616.7,1341.8 1623.3,1340.0 1628.3,1340.5 1633.3,1343.3 1638.3,1337.8 1643.3,1336.7 1648.3,1328.3 1656.7,1317.7 1663.3,1337.7 1669.9,1333.7 1676.6,1333.2 1685.5,1344.3 1691.0,1344.8 1696.6,1344.3 1702.2,1342.2 1707.7,1342.1 1713.2,1346.9 1718.8,1351.0 1727.7,1353.2 1735.5,1351.7 1743.3,1355.4 1749.9,1351.0 1757.7,1354.4 1765.5,1355.4 1771.4,1354.6 1777.3,1359.5 1783.2,1357.6 1789.1,1351.6 1795.1,1348.4 1801.0,1342.1 1807.7,1356.8 1814.3,1368.7 1821.0,1365.2 1827.6,1357.2 1834.3,1353.2 1839.8,1366.9 1845.4,1375.4 1853.2,1369.5 1860.9,1368.7 1866.5,1366.4 1872.0,1366.5 1877.9,1370.6 1883.9,1376.6 1889.8,1379.8 1896.4,1373.5 1903.1,1362.1 1909.8,1361.1 1916.4,1355.4 1922.0,1356.6 1927.5,1362.1 1933.0,1369.0 1938.6,1375.4 1944.2,1381.3 1949.7,1388.7 1957.5,1376.2 1965.3,1362.1 1974.2,1371.0 1983.0,1373.2 1989.7,1374.0 1996.4,1375.4 2003.1,1378.8 2009.7,1382.1 2016.3,1385.8 2023.0,1384.3 2030.8,1383.0 2038.5,1382.1 2044.0,1381.1 2049.6,1379.8 2055.1,1382.6 2060.7,1384.3 2066.2,1386.3 2071.8,1386.5 2077.4,1383.6 2082.9,1384.3 2090.7,1355.4 2095.2,1311.0 2097.4,1293.3"/>
<polyline class="cv" stroke="#000080" points="300.9,1476.5 308.6,1473.1 314.5,1472.8 320.4,1471.4 328.9,1474.8 334.5,1473.4 340.2,1474.2 345.8,1473.9 351.8,1470.9 357.7,1473.1 362.8,1469.9 367.8,1464.6 376.3,1457.8 383.1,1452.5 389.9,1449.0 396.6,1437.2 403.4,1425.3 410.2,1410.1 417.0,1402.4 423.7,1390.6 431.9,1379.6 439.0,1390.1 445.8,1396.5 450.9,1413.5 457.6,1425.3 462.7,1440.6 466.1,1454.1 471.2,1462.9 478.0,1468.0 484.7,1466.3 491.5,1468.0 498.3,1468.0 506.8,1464.6 515.2,1462.9 523.7,1459.5 532.2,1461.2 538.9,1457.8 544.0,1460.9 549.1,1461.2 554.2,1461.0 559.3,1461.2 567.7,1459.5 574.5,1452.4 580.5,1449.7 586.4,1449.0 593.1,1447.5 599.9,1443.9 608.4,1440.6 616.9,1418.5 620.0,1420.0 625.8,1406.3 630.6,1402.6 635.4,1396.6 640.2,1389.5 645.1,1381.2 650.4,1370.9 655.7,1365.7 660.5,1355.3 665.4,1348.3 670.2,1321.3 675.0,1298.1 680.8,1280.8 687.6,1273.1 690.5,1248.0 694.3,1224.8 700.1,1203.6 704.9,1174.6 710.7,1149.5 716.5,1130.2 721.4,1107.0 726.2,1089.7 728.1,1080.0 730.5,1089.8 740.0,1050.0 745.0,1016.7 750.0,986.7 755.0,956.7 760.0,926.7 766.7,896.7 771.7,866.7 775.0,833.3 780.0,820.0 786.7,810.0 790.0,780.0 795.0,746.7 796.7,706.7 801.7,695.0 806.7,693.3 811.7,670.0 814.7,643.3 820.0,633.3 825.0,603.3 830.0,593.3 836.7,603.3 840.0,580.0 843.3,543.3 846.7,520.0 855.0,516.7 858.3,486.7 865.0,473.3 868.3,446.7 875.0,430.0 880.0,416.7 886.7,426.7 890.0,393.3 896.7,380.0 900.0,350.0 903.3,336.7 908.3,341.9 913.3,343.3 920.0,350.0 926.7,366.7 933.3,380.0 938.3,363.3 945.0,366.7 950.0,350.0 955.0,366.7 958.3,383.3 966.7,396.7 973.3,400.0 978.3,401.0 983.3,396.7 986.7,426.7 993.3,433.3 996.7,456.7 1003.3,463.3 1008.3,480.0 1015.0,503.3 1020.0,499.6 1025.0,496.7 1030.0,510.0 1033.3,543.3 1036.7,566.7 1041.7,561.4 1046.7,560.0 1051.7,576.7 1055.0,563.3 1060.0,600.0 1065.0,610.0 1071.7,603.3 1075.0,630.0 1080.0,656.7 1086.7,673.3 1094.0,674.5 1101.3,679.7 1105.0,686.3 1106.0,706.8 1107.9,728.9 1110.1,748.0 1112.3,756.0 1116.0,750.9 1118.9,736.2 1121.9,722.3 1124.8,725.9 1126.6,739.1 1129.2,765.6 1136.6,777.3 1143.3,796.7 1150.0,820.0 1158.3,820.0 1163.3,840.0 1168.3,860.0 1171.7,883.3 1176.7,885.0 1181.7,883.3 1186.7,903.3 1193.3,923.3 1201.7,930.0 1206.7,953.3 1210.0,976.7 1216.7,983.3 1221.7,973.3 1226.7,1000.0 1233.3,1020.0 1240.0,1033.3 1246.7,1040.0 1253.3,1056.7 1258.3,1064.0 1263.3,1066.7 1268.3,1086.7 1273.3,1096.7 1281.7,1093.3 1288.3,1120.0 1296.7,1116.7 1303.3,1140.0 1310.0,1156.7 1315.0,1180.0 1320.0,1190.0 1326.7,1180.0 1331.7,1200.0 1340.0,1210.0 1345.0,1210.9 1350.0,1213.3 1355.0,1219.0 1360.0,1223.3 1365.8,1230.7 1371.7,1236.7 1377.5,1245.9 1383.3,1250.0 1388.3,1252.0 1393.3,1253.3 1398.3,1258.5 1403.3,1263.3 1408.3,1270.9 1413.3,1273.3 1420.0,1280.0 1425.0,1278.4 1430.0,1276.7 1435.0,1278.6 1440.0,1283.3 1445.0,1282.0 1450.0,1280.0 1455.0,1285.5 1460.0,1290.0 1465.0,1301.0 1470.0,1310.0 1476.7,1300.0 1481.7,1301.5 1486.7,1306.7 1495.0,1316.7 1500.0,1311.1 1505.0,1308.3 1510.8,1314.9 1516.7,1316.7 1523.3,1323.9 1530.0,1330.0 1535.6,1329.6 1541.1,1326.9 1546.7,1328.3 1553.3,1327.8 1560.0,1326.7 1566.7,1333.2 1573.3,1340.0 1580.0,1337.8 1586.7,1331.7 1593.3,1336.8 1600.0,1336.7 1606.7,1337.7 1613.3,1336.7 1620.0,1338.0 1626.7,1338.3 1633.3,1337.2 1640.0,1338.3 1648.3,1333.3 1655.8,1335.1 1663.3,1342.1 1668.8,1333.2 1674.4,1326.6 1683.3,1333.2 1692.2,1339.9 1701.1,1333.2 1709.9,1342.1 1715.5,1341.4 1721.0,1342.1 1727.7,1345.8 1734.4,1344.3 1742.2,1343.1 1749.9,1342.1 1757.7,1346.5 1765.5,1346.5 1771.4,1343.3 1777.3,1337.8 1783.2,1335.4 1788.8,1347.3 1794.3,1364.3 1802.1,1354.3 1809.9,1342.1 1816.6,1346.9 1823.2,1346.5 1828.8,1350.6 1834.3,1359.9 1843.2,1351.0 1848.8,1361.9 1854.3,1373.2 1863.1,1375.4 1872.0,1364.3 1880.9,1357.6 1886.5,1356.4 1892.0,1359.9 1897.5,1366.0 1903.1,1375.4 1912.0,1366.5 1918.7,1370.8 1925.3,1371.0 1930.8,1374.4 1936.4,1375.4 1945.3,1384.3 1950.8,1375.8 1956.4,1366.5 1963.1,1373.2 1971.9,1377.6 1980.8,1393.2 1989.7,1377.6 1995.2,1378.2 2000.8,1379.8 2009.7,1373.2 2018.6,1377.6 2027.4,1384.3 2034.1,1384.0 2040.8,1384.3 2049.6,1384.3 2055.1,1387.1 2060.7,1388.7 2066.2,1383.1 2071.8,1382.1 2080.7,1377.6 2089.6,1355.4 2094.0,1324.3 2096.7,1295.5"/>
<polyline class="cv" stroke="#960082" points="300.9,1468.5 306.4,1466.6 311.9,1467.7 320.4,1466.0 329.7,1462.6 337.4,1468.5 342.4,1466.0 350.9,1468.5 357.7,1466.0 364.5,1459.2 371.2,1452.4 376.3,1449.0 384.8,1440.6 389.9,1425.3 396.6,1416.8 400.0,1399.9 405.1,1386.3 411.9,1384.7 417.0,1376.2 422.1,1369.4 427.1,1355.9 433.1,1350.8 439.0,1362.6 442.4,1376.2 450.0,1376.2 453.4,1386.3 456.8,1399.9 460.2,1410.1 464.4,1416.8 467.8,1428.7 470.3,1443.9 473.7,1452.4 479.7,1449.0 486.4,1452.4 495.7,1445.6 503.4,1452.4 508.5,1454.1 516.9,1447.3 522.0,1433.8 527.1,1432.1 535.6,1437.2 544.0,1432.1 549.1,1437.2 552.5,1449.0 559.3,1442.2 566.0,1433.8 574.5,1425.3 583.0,1421.9 588.1,1419.2 593.2,1418.5 599.9,1406.7 605.0,1403.9 610.1,1399.9 616.9,1391.4 620.0,1388.9 627.7,1381.2 632.5,1373.0 637.4,1367.6 645.1,1358.0 652.8,1340.6 657.6,1311.7 661.5,1292.4 666.3,1280.8 672.1,1261.5 677.9,1251.8 682.7,1230.6 684.7,1211.3 687.6,1203.6 694.3,1199.7 697.2,1176.5 701.1,1143.7 705.9,1124.4 709.8,1103.2 713.6,1087.7 715.6,1080.0 720.4,1052.5 727.1,1018.6 733.9,984.7 740.0,963.3 746.7,953.3 751.7,933.3 756.7,900.0 761.7,866.7 764.0,826.7 766.7,803.3 775.0,786.7 780.0,763.3 783.3,723.3 786.7,683.3 791.7,653.3 796.7,640.6 801.7,626.7 808.3,613.3 811.7,583.3 816.7,546.7 821.7,513.3 826.7,483.3 831.7,456.7 835.0,443.3 843.3,443.3 846.7,410.0 850.0,380.0 852.7,350.0 856.7,343.3 863.3,363.3 868.3,346.7 871.7,323.3 875.0,316.7 881.7,320.0 886.7,303.3 891.7,286.7 895.0,266.7 898.3,258.3 905.0,270.0 908.3,250.0 911.7,230.0 916.7,233.3 918.3,256.7 925.0,236.7 931.7,216.7 936.7,223.3 940.0,236.7 946.7,240.0 951.7,250.0 958.3,240.0 961.7,233.3 966.7,246.7 973.3,246.7 976.0,263.3 978.3,290.0 981.7,320.0 986.7,336.7 990.7,345.0 995.0,330.0 998.3,303.3 1001.7,293.3 1006.7,306.7 1010.0,323.3 1013.3,356.7 1016.7,390.0 1021.7,426.7 1028.3,403.3 1033.3,433.3 1038.3,423.3 1043.3,450.0 1048.3,470.0 1055.0,496.7 1061.7,516.7 1066.7,503.3 1068.3,533.3 1071.7,556.7 1075.0,583.3 1080.0,550.0 1085.0,586.7 1090.0,566.7 1095.0,563.3 1098.3,593.3 1103.3,626.7 1111.7,630.0 1115.0,646.7 1120.0,636.7 1123.3,663.3 1128.3,686.7 1133.3,696.7 1140.0,716.7 1148.3,736.7 1153.3,756.7 1158.3,773.3 1165.0,766.7 1168.3,790.0 1171.7,820.0 1175.0,843.3 1181.7,830.0 1188.3,846.7 1196.7,856.7 1200.0,880.0 1205.0,903.3 1213.3,913.3 1218.3,930.0 1223.3,950.0 1230.0,963.3 1236.7,986.7 1243.3,976.7 1248.3,996.7 1255.0,1010.0 1263.3,1026.7 1270.0,1043.3 1278.3,1056.7 1285.0,1073.3 1293.3,1090.0 1300.0,1103.3 1305.0,1111.7 1310.0,1116.7 1315.0,1140.0 1323.3,1146.7 1329.2,1149.1 1335.0,1156.7 1343.3,1170.0 1350.0,1186.7 1358.3,1170.0 1365.0,1196.7 1373.3,1200.0 1380.0,1213.3 1385.0,1218.5 1390.0,1223.3 1395.0,1227.8 1400.0,1230.0 1408.3,1246.7 1414.2,1245.5 1420.0,1243.3 1426.7,1256.7 1431.7,1254.5 1436.7,1255.0 1441.7,1262.6 1446.7,1266.7 1451.7,1269.0 1456.7,1270.0 1461.7,1273.8 1466.7,1276.7 1473.3,1281.3 1480.0,1281.7 1486.7,1292.0 1493.3,1303.3 1499.2,1294.2 1505.0,1286.7 1513.3,1303.3 1521.7,1295.0 1527.5,1301.4 1533.3,1310.0 1538.3,1308.6 1543.3,1310.0 1550.0,1305.9 1556.7,1298.3 1561.7,1304.2 1566.7,1310.0 1571.7,1314.5 1576.7,1323.3 1583.3,1316.9 1590.0,1313.3 1596.7,1310.7 1603.3,1310.0 1608.3,1316.3 1613.3,1323.3 1618.3,1320.9 1623.3,1316.7 1628.3,1315.9 1633.3,1313.3 1638.3,1320.9 1643.3,1323.3 1651.1,1328.4 1658.9,1331.0 1667.8,1315.5 1676.6,1311.0 1684.4,1319.9 1692.2,1328.8 1701.1,1315.5 1708.8,1326.6 1716.6,1324.3 1721.0,1337.7 1727.7,1324.3 1735.5,1333.2 1743.3,1342.1 1752.1,1333.2 1761.0,1335.4 1766.5,1345.8 1772.1,1351.0 1777.7,1347.2 1783.2,1342.1 1792.1,1353.2 1797.7,1347.0 1803.2,1344.3 1808.8,1351.2 1814.3,1359.9 1823.2,1353.2 1828.8,1359.3 1834.3,1368.7 1843.2,1362.1 1849.8,1357.6 1858.7,1364.3 1865.4,1353.2 1874.2,1362.1 1883.1,1368.7 1888.7,1367.4 1894.2,1364.3 1900.9,1368.7 1909.8,1368.7 1915.3,1374.2 1920.9,1379.8 1929.8,1375.4 1935.3,1372.1 1940.9,1371.0 1949.7,1379.8 1958.6,1388.7 1967.5,1382.1 1973.0,1380.1 1978.6,1377.6 1987.5,1382.1 1994.1,1379.8 2003.0,1386.5 2009.7,1393.2 2018.6,1384.3 2027.4,1388.7 2036.3,1384.3 2041.8,1391.0 2047.4,1395.4 2051.9,1386.5 2058.5,1405.4 2065.2,1390.9 2074.1,1397.6 2081.8,1388.7 2088.5,1371.0 2092.9,1344.3 2095.2,1315.5 2097.4,1293.3"/>
</g>
<g class="ar" shape-rendering="crispEdges">
<path d="M582.8 1143 L582.8 1461" style="stroke-linecap:butt"/><path d="M557.6 1410.5 L582.8 1461.5 L608.2 1410.5"/>
<path d="M925.6 1346.5 L925.6 172"/><path d="M900 224 L925.6 171.5 L951.2 224"/>
</g>
<g class="ar" shape-rendering="crispEdges"><path d="M1761.6 1486 L1761.6 1304"/><path d="M1736 1354.7 L1761.6 1303.7 L1787.3 1354.7"/></g>
<defs><clipPath id="c3"><rect x="1767.2" y="1290" width="40" height="90"/></clipPath></defs>
<g clip-path="url(#c3)" shape-rendering="crispEdges"><polyline class="cv" stroke="#960082" points="1752.1,1333.2 1761.0,1335.4 1772.1,1351.0 1783.2,1342.1 1792.1,1353.2 1803.2,1344.3 1814.3,1359.9 1823.2,1353.2"/></g>
<text transform="translate(1485.60 331.20) scale(0.9090 1)" font-size="73.0" text-anchor="start">[<tspan font-size="76.5">TBAF</tspan>]</text>
<text transform="translate(1735.00 331.20) scale(1.0000 1)" font-size="73.0" text-anchor="start">x</text>
<text transform="translate(1794.60 331.20) scale(0.9680 1)" font-size="73.0" text-anchor="start">10</text>
<text transform="translate(1873.60 289.60) scale(0.9700 1)" font-size="42.0" text-anchor="start">-6</text>
<text transform="translate(1927.40 331.20) scale(0.9640 1)" font-size="76.5" text-anchor="start">M</text>
<line class="lg" shape-rendering="crispEdges" stroke="#000000" x1="1484" y1="398.7" x2="1634" y2="398.7"/>
<text transform="translate(1653.00 420.50) scale(0.9570 1)" font-size="76.0" text-anchor="start">0</text>
<line class="lg" shape-rendering="crispEdges" stroke="#ff0000" x1="1484" y1="488.4" x2="1634" y2="488.4"/>
<text transform="translate(1653.00 510.25) scale(0.9570 1)" font-size="76.0" text-anchor="start">2</text>
<line class="lg" shape-rendering="crispEdges" stroke="#00ff00" x1="1484" y1="578.2" x2="1634" y2="578.2"/>
<text transform="translate(1653.00 600.00) scale(0.9570 1)" font-size="76.0" text-anchor="start">4</text>
<line class="lg" shape-rendering="crispEdges" stroke="#0000ff" x1="1484" y1="668.0" x2="1634" y2="668.0"/>
<text transform="translate(1653.00 689.75) scale(0.9570 1)" font-size="76.0" text-anchor="start">8</text>
<line class="lg" shape-rendering="crispEdges" stroke="#00ffff" x1="1484" y1="757.7" x2="1634" y2="757.7"/>
<text transform="translate(1653.00 779.50) scale(0.9570 1)" font-size="76.0" text-anchor="start">64</text>
<line class="lg" shape-rendering="crispEdges" stroke="#808000" x1="1484" y1="847.5" x2="1634" y2="847.5"/>
<text transform="translate(1653.00 869.25) scale(0.9570 1)" font-size="76.0" text-anchor="start">120</text>
<line class="lg" shape-rendering="crispEdges" stroke="#000080" x1="1484" y1="937.2" x2="1634" y2="937.2"/>
<text transform="translate(1653.00 959.00) scale(0.9570 1)" font-size="76.0" text-anchor="start">240</text>
<line class="lg" shape-rendering="crispEdges" stroke="#960082" x1="1484" y1="1027.0" x2="1634" y2="1027.0"/>
<text transform="translate(1653.00 1048.75) scale(0.9570 1)" font-size="76.0" text-anchor="start">400</text>
</svg></body></html>
